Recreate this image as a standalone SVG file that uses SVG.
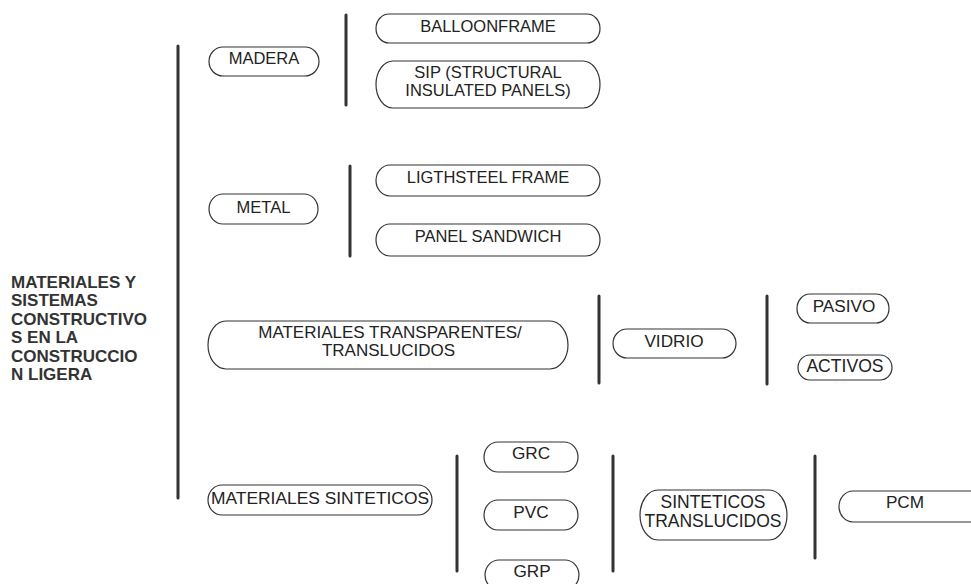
<svg xmlns="http://www.w3.org/2000/svg" width="971" height="584" viewBox="0 0 971 584">
<style>
.pill{fill:#fff;stroke:#333;stroke-width:1.2}
.t{font-family:"Liberation Sans",Arial,sans-serif;font-size:17.2px;fill:#222;text-anchor:middle}
.s{font-size:16.5px}
.title{font-family:"Liberation Sans",Arial,sans-serif;font-size:17px;font-weight:bold;fill:#333}
.div{stroke:#333;stroke-width:3;stroke-linecap:round;fill:none}
</style>
<rect width="971" height="584" fill="#fff"/>
<g id="connectors">
<line class="div" x1="178" y1="46" x2="178" y2="498"/>
<line class="div" x1="346" y1="15" x2="346" y2="105"/>
<line class="div" x1="350" y1="166" x2="350" y2="256"/>
<line class="div" x1="599" y1="296" x2="599" y2="383"/>
<line class="div" x1="767" y1="296" x2="767" y2="384"/>
<line class="div" x1="457" y1="456" x2="457" y2="571"/>
<line class="div" x1="613" y1="456" x2="613" y2="571"/>
<line class="div" x1="815" y1="456" x2="815" y2="558"/>
</g>
<g id="title">
<text class="title" x="11" y="288">MATERIALES Y</text>
<text class="title" x="11" y="306.4">SISTEMAS</text>
<text class="title" x="11" y="324.8">CONSTRUCTIVO</text>
<text class="title" x="11" y="343.2">S EN LA</text>
<text class="title" x="11" y="361.6">CONSTRUCCIO</text>
<text class="title" x="11" y="380">N LIGERA</text>
</g>
<g id="madera"><rect class="pill" x="209" y="47" width="110" height="29" rx="14" ry="14.5"/><text class="t s" x="264" y="64">MADERA</text></g>
<g id="balloonframe"><rect class="pill" x="376" y="14" width="224" height="29" rx="13" ry="14.5"/><text class="t s" x="488" y="32">BALLOONFRAME</text></g>
<g id="sip"><rect class="pill" x="376" y="61" width="224" height="47" rx="17" ry="23.5"/><text class="t s" x="488" y="78">SIP (STRUCTURAL</text><text class="t s" x="488" y="96">INSULATED PANELS)</text></g>
<g id="metal"><rect class="pill" x="209" y="194" width="109" height="30" rx="14" ry="15"/><text class="t s" x="263.5" y="213">METAL</text></g>
<g id="ligthsteel"><rect class="pill" x="376" y="165" width="224" height="31" rx="14" ry="15.5"/><text class="t s" x="488" y="183">LIGTHSTEEL FRAME</text></g>
<g id="panel-sandwich"><rect class="pill" x="376" y="224" width="224" height="32" rx="14" ry="16"/><text class="t s" x="488" y="242">PANEL SANDWICH</text></g>
<g id="transparentes"><rect class="pill" x="208" y="321" width="360" height="48" rx="18" ry="24"/><text class="t" x="390" y="337.5" style="font-size:17px">MATERIALES TRANSPARENTES/</text><text class="t" x="388.5" y="356.1" style="font-size:17px">TRANSLUCIDOS</text></g>
<g id="vidrio"><rect class="pill" x="613" y="329" width="123" height="29" rx="14" ry="14.5"/><text class="t" x="674" y="347">VIDRIO</text></g>
<g id="pasivo"><rect class="pill" x="797" y="294" width="92" height="29" rx="13" ry="14.5"/><text class="t" x="844" y="312">PASIVO</text></g>
<g id="activos"><rect class="pill" x="798" y="355" width="94" height="25" rx="12" ry="12.5"/><text class="t" x="845" y="372" style="font-size:17.6px">ACTIVOS</text></g>
<g id="sinteticos"><rect class="pill" x="208" y="485" width="224" height="30" rx="14" ry="15"/><text class="t" x="320" y="504" style="font-size:17.4px">MATERIALES SINTETICOS</text></g>
<g id="grc"><rect class="pill" x="484" y="442" width="94" height="30" rx="14" ry="15"/><text class="t" x="531" y="459">GRC</text></g>
<g id="pvc"><rect class="pill" x="484" y="500" width="94" height="30" rx="14" ry="15"/><text class="t" x="531" y="518">PVC</text></g>
<g id="grp"><rect class="pill" x="485" y="560" width="94" height="30" rx="14" ry="15"/><text class="t" x="532" y="577">GRP</text></g>
<g id="sint-translucidos"><rect class="pill" x="640" y="490" width="147" height="50" rx="18" ry="25"/><text class="t" x="713" y="507.5" style="font-size:17.5px">SINTETICOS</text><text class="t" x="713" y="526.5" style="font-size:17.5px">TRANSLUCIDOS</text></g>
<g id="pcm"><rect class="pill" x="839" y="491" width="170" height="31" rx="14" ry="15.5"/><text class="t" x="905" y="508">PCM</text></g>
</svg>
